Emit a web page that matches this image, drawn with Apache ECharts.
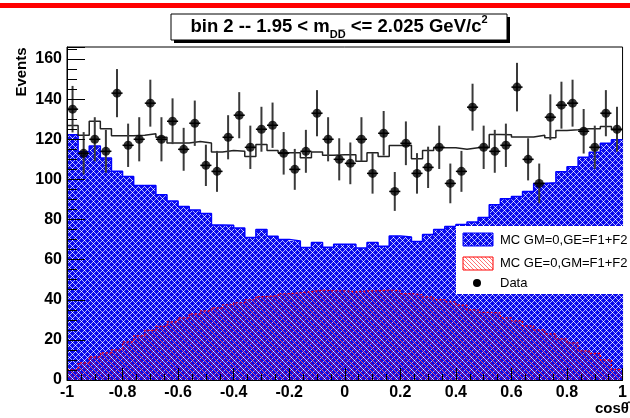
<!DOCTYPE html>
<html><head><meta charset="utf-8">
<script src="https://cdn.jsdelivr.net/npm/echarts@6/dist/echarts.min.js"></script>
<style>html,body{margin:0;padding:0;background:#fff;}#c{width:630px;height:418px;}</style>
</head><body><div id="c"></div>
<script>
// ---- data ----
const X_MIN = -1, X_MAX = 1, N_BINS = 50;
const xTickLabels = ['-1','-0.8','-0.6','-0.4','-0.2','0','0.2','0.4','0.6','0.8','1'];
const yTickLabels = ['0','20','40','60','80','100','120','140','160'];
// MC GM=0,GE=F1+F2 (blue)
const mcGE = [122.3,113.8,116.7,110.7,104.1,101.5,97.0,97.0,92.4,89.2,
              86.5,84.7,83.0,77.3,77.1,75.8,71.0,75.0,71.6,70.1,
              69.3,66.0,68.5,66.2,67.7,67.7,65.8,68.5,66.7,71.8,
              71.3,69.0,72.5,75.0,76.5,77.5,78.8,81.0,87.4,90.4,
              91.5,94.0,98.0,98.3,103.8,106.3,111.0,113.5,118.0,119.8];
// MC GE=0,GM=F1+F2 (red)
const mcGM = [5.0,8.5,11.5,13.5,15.0,19.0,22.0,24.7,26.7,29.0,
              31.0,33.0,34.5,36.0,37.5,38.5,40.0,41.6,42.0,43.0,
              43.5,44.0,44.8,44.5,44.5,43.9,44.4,44.5,44.8,44.5,
              43.1,42.5,41.4,40.1,39.0,37.3,35.0,33.7,33.5,31.0,
              29.5,27.0,25.0,23.0,20.5,18.5,14.5,13.3,10.0,5.3];
// total MC (black step line)
const mcSum = [126.9,122.0,129.0,125.2,121.8,121.8,122.0,122.7,121.0,118.2,
               118.2,118.9,118.2,113.6,114.4,114.0,111.4,117.4,114.4,113.3,
               113.3,110.8,113.6,112.0,112.3,112.3,109.1,113.3,111.4,116.9,
               117.0,110.3,114.4,115.8,115.8,115.0,115.8,115.8,122.4,122.2,
               121.1,121.1,122.0,120.7,124.4,124.7,125.2,125.2,126.4,124.7];
// Data
const dataCounts = [135,113,120,114,143,117,120,138,120,129,
                    115,128,107,104,121,132,116,125,127,113,
                    105,114,133,120,110,108,120,103,123,94,
                    118,103,106,116,98,104,136,116,114,117,
                    146,110,98,131,137,138,124,116,133,125];
const dataErrors = [11.6,10.6,11.0,10.7,12.0,10.8,11.0,11.7,11.0,11.4,
                    10.7,11.3,10.3,10.2,11.0,11.5,10.8,11.2,11.3,10.6,
                    10.2,10.7,11.5,11.0,10.5,10.4,11.0,10.1,11.1,9.7,
                    10.9,10.1,10.3,10.8,9.9,10.2,11.7,10.8,10.7,10.8,
                    12.1,10.5,9.9,11.4,11.7,11.7,11.1,10.8,11.5,11.2];

// ---- helpers ----
const binW = (X_MAX - X_MIN) / N_BINS;
const binLo = i => +(X_MIN + i * binW).toFixed(6);
const FONT = '"Liberation Sans", Arial, Helvetica, sans-serif';

function makePattern(w, h, fn) {
  const c = document.createElement('canvas'); c.width = w; c.height = h;
  const ctx = c.getContext('2d'); const img = ctx.createImageData(w, h);
  for (let y = 0; y < h; y++) for (let x = 0; x < w; x++) {
    const p = fn(x, y), k = (y * w + x) * 4;
    img.data[k] = p[0]; img.data[k+1] = p[1]; img.data[k+2] = p[2]; img.data[k+3] = p[3];
  }
  ctx.putImageData(img, 0, 0); return c;
}
const blueTile = makePattern(6, 6, (x, y) => {
  const d1 = (x + y) % 6, d2 = (x - y + 6) % 6;
  if (d1 === 0 && d2 === 0) return [255,255,255,255];
  if (d1 === 0 || d2 === 0) return [175,180,255,255];
  return [10,10,235,255];
});
const redTile = makePattern(4, 4, (x, y) => {
  if (x === y) return [255,0,0,140];
  return [0,0,0,0];
});
const bluePattern = {image: blueTile, repeat: 'repeat'};
const redPattern = {image: redTile, repeat: 'repeat'};

function histFill(name, values, fill, z) {
  return {
    type: 'custom', name, z, silent: true, animation: false, clip: true,
    data: values.map((v, i) => [binLo(i), binLo(i + 1), v]),
    encode: {x: [0, 1], y: 2},
    renderItem: (params, api) => {
      const p0 = api.coord([api.value(0), 0]);
      const p1 = api.coord([api.value(1), api.value(2)]);
      const x0 = Math.round(p0[0]), x1 = Math.round(p1[0]);
      return {type: 'rect', shape: {x: x0, y: p1[1], width: x1 - x0, height: p0[1] - p1[1]},
              style: {fill: fill}};
    }
  };
}
function stepLine(name, values, color, width, type, z) {
  const pts = [];
  values.forEach((v, i) => { pts.push([binLo(i), v]); pts.push([binLo(i + 1), v]); });
  return {type: 'line', name, z, data: pts, symbol: 'none', silent: true, animation: false,
          lineStyle: {color, width, type}};
}

const errData = dataCounts.map((v, i) => [binLo(i) + binW / 2, v, dataErrors[i], binLo(i), binLo(i + 1)]);

const option = {
  animation: false,
  grid: {left: 67, right: 1, top: 47, bottom: 38, show: true, borderColor: '#000', borderWidth: 1},
  xAxis: {
    type: 'value', min: X_MIN, max: X_MAX, interval: 0.2, z: 10,
    axisLine: {show: true, onZero: false, lineStyle: {color: '#000', width: 1}},
    axisTick: {show: true, inside: true, length: 12, lineStyle: {color: '#000'}},
    minorTick: {show: true, splitNumber: 4, length: 6, lineStyle: {color: '#000'}},
    splitLine: {show: false},
    axisLabel: {
      color: '#000', fontSize: 16, fontWeight: 'bold', fontFamily: FONT, margin: 5,
      formatter: v => { const k = Math.round((v - X_MIN) / 0.2); return Math.abs(X_MIN + k * 0.2 - v) < 1e-6 ? xTickLabels[k] : ''; }
    }
  },
  yAxis: {
    type: 'value', min: 0, max: 166, interval: 20, z: 10,
    axisLine: {show: true, onZero: false, lineStyle: {color: '#000', width: 1}},
    axisTick: {show: true, inside: true, length: 18, lineStyle: {color: '#000'}},
    minorTick: {show: true, splitNumber: 4, length: 10, lineStyle: {color: '#000'}},
    splitLine: {show: false},
    axisLabel: {
      color: '#000', fontSize: 16, fontWeight: 'bold', fontFamily: FONT, margin: 5,
      formatter: v => { const k = Math.round(v / 20); return Math.abs(k * 20 - v) < 1e-6 && k < yTickLabels.length ? yTickLabels[k] : ''; }
    }
  },
  series: [
    histFill('MC GM=0,GE=F1+F2', mcGE, bluePattern, 1),
    stepLine('GE outline', mcGE, '#0000ff', 1.5, 'solid', 2),
    histFill('MC GE=0,GM=F1+F2', mcGM, redPattern, 3),
    stepLine('GM outline', mcGM, '#ff0000', 1.2, [2, 2], 4),
    stepLine('MC total', mcSum, '#222', 1.5, 'solid', 5),
    {
      type: 'custom', name: 'Data errors', z: 6, silent: true, animation: false,
      data: errData, encode: {x: 0, y: 1},
      renderItem: (params, api) => {
        const x = api.value(0), y = api.value(1), e = api.value(2);
        const t = api.coord([x, y + e]), b = api.coord([x, y - e]);
        const l = api.coord([api.value(3), y]), r = api.coord([api.value(4), y]);
        return {type: 'group', children: [
          {type: 'line', shape: {x1: t[0], y1: t[1], x2: b[0], y2: b[1]}, style: {stroke: '#3a3a3a', lineWidth: 2}},
          {type: 'line', shape: {x1: l[0], y1: l[1], x2: r[0], y2: r[1]}, style: {stroke: '#000', lineWidth: 1.5}}
        ]};
      }
    },
    {
      type: 'scatter', name: 'Data', z: 7, silent: true, animation: false,
      symbol: 'circle', symbolSize: 9, itemStyle: {color: '#000'},
      data: dataCounts.map((v, i) => [binLo(i) + binW / 2, v])
    }
  ],
  graphic: [
    {type: 'rect', z: 50, shape: {x: 0, y: 3, width: 630, height: 5}, style: {fill: '#ff0000'}},
    {type: 'rect', z: 50, shape: {x: 174, y: 17, width: 336, height: 26}, style: {fill: '#000'}},
    {type: 'rect', z: 51, shape: {x: 171, y: 14, width: 336, height: 26}, style: {fill: '#fff', stroke: '#000', lineWidth: 1}},
    {type: 'text', z: 52, x: 339, y: 27, style: {
      text: '{a|bin 2 -- 1.95 < m}{s|DD\u0305}{a| <= 2.025 GeV/c}{p|2}',
      align: 'center', verticalAlign: 'middle', fill: '#000',
      rich: {
        a: {fontSize: 18.5, fontWeight: 'bold', fontFamily: FONT, lineHeight: 26, verticalAlign: 'middle'},
        s: {fontSize: 11, fontWeight: 'bold', fontFamily: FONT, lineHeight: 10, verticalAlign: 'bottom'},
        p: {fontSize: 11, fontWeight: 'bold', fontFamily: FONT, lineHeight: 15, verticalAlign: 'top'}
      }
    }},
    {type: 'text', z: 52, x: 22, y: 72, rotation: Math.PI / 2, style: {
      text: 'Events', fontSize: 15, fontWeight: 'bold', fontFamily: FONT, fill: '#000',
      align: 'center', verticalAlign: 'middle'}},
    {type: 'text', z: 52, x: 595, y: 409, style: {
      text: 'cos\u03b8\u0302', fontSize: 15, fontWeight: 'bold', fontFamily: FONT, fill: '#000',
      align: 'left', verticalAlign: 'middle'}},
    // legend
    {type: 'rect', z: 60, shape: {x: 456, y: 226, width: 176, height: 68}, style: {fill: '#fff'}},
    {type: 'rect', z: 61, shape: {x: 463, y: 233, width: 30, height: 13}, style: {fill: bluePattern, stroke: '#0000ff', lineWidth: 1}},
    {type: 'text', z: 61, x: 500, y: 240.5, style: {text: 'MC GM=0,GE=F1+F2', fontSize: 13, fontFamily: FONT, fill: '#000', align: 'left', verticalAlign: 'middle'}},
    {type: 'rect', z: 61, shape: {x: 463, y: 257, width: 30, height: 13}, style: {fill: redPattern, stroke: '#ff0000', lineWidth: 1}},
    {type: 'text', z: 61, x: 500, y: 263, style: {text: 'MC GE=0,GM=F1+F2', fontSize: 13, fontFamily: FONT, fill: '#000', align: 'left', verticalAlign: 'middle'}},
    {type: 'circle', z: 61, shape: {cx: 477, cy: 283, r: 4}, style: {fill: '#000'}},
    {type: 'text', z: 61, x: 500, y: 283.5, style: {text: 'Data', fontSize: 13, fontFamily: FONT, fill: '#000', align: 'left', verticalAlign: 'middle'}}
  ]
};
const chart = echarts.init(document.getElementById('c'), null, {renderer: 'canvas'});
chart.setOption(option);
</script>
</body></html>
